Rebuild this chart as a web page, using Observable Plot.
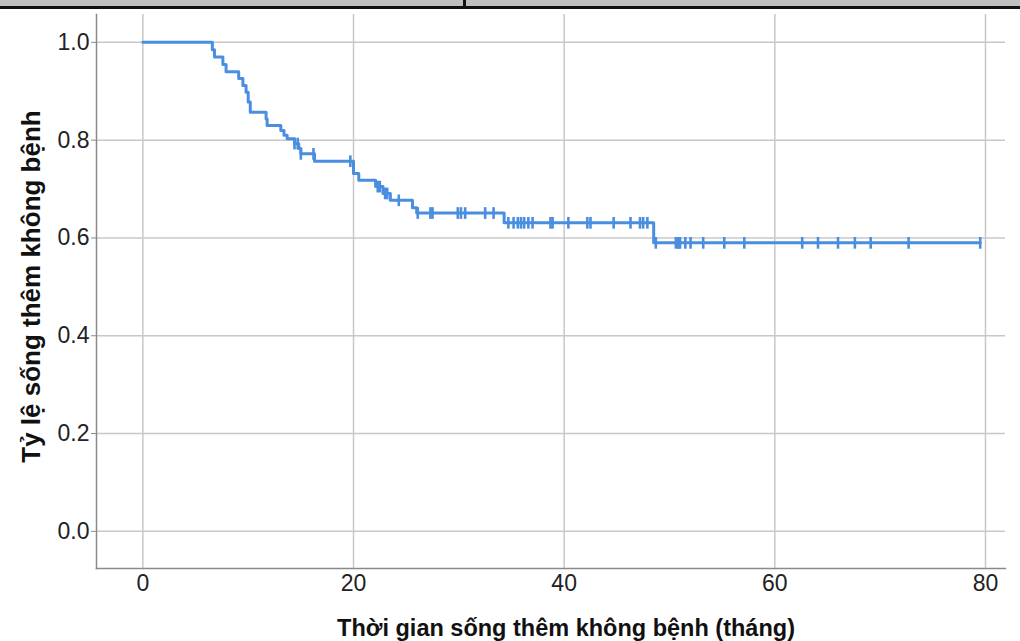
<!DOCTYPE html>
<html>
<head>
<meta charset="utf-8">
<script src="https://cdn.jsdelivr.net/npm/d3@7"></script>
<script src="https://cdn.jsdelivr.net/npm/@observablehq/plot@0.6"></script>
<style>
  html, body { margin: 0; padding: 0; background: #fff; }
  #wrap { position: relative; width: 1020px; height: 641px; overflow: hidden; }
  #band { position: absolute; left: 0; top: 0; width: 1020px; height: 6px; background: #c0c0c0; border-bottom: 3px solid #111; }
  #band-tick { position: absolute; left: 463px; top: 0; width: 3px; height: 9px; background: #111; }
  #chart { position: absolute; left: 0; top: 0; }
</style>
</head>
<body>
<div id="wrap"><div id="chart"></div><div id="band"></div><div id="band-tick"></div></div>
<script>
// Kaplan–Meier steps: event times (months) and survival after each event
const eventTimes = [0, 6.6, 6.8, 7.6, 7.9, 9.1, 9.5, 9.8, 10.0, 10.2, 11.7, 11.8, 13.1, 13.4, 13.7, 14.4, 14.8, 15.0, 16.3, 20.0, 20.5, 22.1, 22.8, 23.5, 25.6, 26.0, 34.3, 48.5];
const survival   = [1.0, 0.985, 0.970, 0.955, 0.940, 0.926, 0.912, 0.898, 0.878, 0.857, 0.844, 0.830, 0.820, 0.810, 0.803, 0.793, 0.783, 0.772, 0.757, 0.732, 0.718, 0.705, 0.691, 0.677, 0.662, 0.651, 0.631, 0.590];
// Censored observations (months)
const censorTimes = [14.4, 14.7, 15.0, 16.2, 19.7, 22.3, 22.5, 23.0, 23.2, 24.3,
  26.1, 27.3, 27.5, 29.9, 30.2, 30.6, 32.5, 33.3,
  34.7, 35.2, 35.6, 35.9, 36.2, 36.6, 37.0, 38.7, 38.9, 40.4, 42.2, 42.5, 44.7, 46.3, 47.2, 47.5, 47.9,
  48.7, 50.6, 50.8, 50.9, 51.0, 51.5, 52.0, 53.2, 55.2, 57.1, 62.6, 64.1, 66.0, 67.6, 69.1, 72.7, 79.5];
const xTicks = [0, 20, 40, 60, 80];
const yTicks = [0, 0.2, 0.4, 0.6, 0.8, 1.0];
const xTitle = "Thời gian sống thêm không bệnh (tháng)";
const yTitle = "Tỷ lệ sống thêm không bệnh";

function survAt(t) {
  let s = survival[0];
  for (let i = 0; i < eventTimes.length; i++) if (eventTimes[i] <= t) s = survival[i];
  return s;
}
const steps = eventTimes.map((t, i) => ({t, s: survival[i]}));
const lastT = d3.max(censorTimes);
steps.push({t: lastT, s: survAt(lastT)});
const censors = censorTimes.map(t => ({t, s: survAt(t)}));

const blue = "#4a8ee0";
const vbar = {
  draw(ctx, size) {
    const h = Math.sqrt(size);
    ctx.moveTo(0, -h); ctx.lineTo(0, h);
  }
};

const chart = Plot.plot({
  width: 1020,
  height: 641,
  marginLeft: 96,
  marginRight: 15,
  marginTop: 14,
  marginBottom: 73,
  style: {fontFamily: "Liberation Sans, Arial, sans-serif", fontSize: "23px", color: "#222", background: "transparent"},
  x: {domain: [-4.4, 81.9]},
  y: {domain: [-0.076, 1.057]},
  marks: [
    Plot.gridX(xTicks, {stroke: "#c8c8c8", strokeOpacity: 1, strokeWidth: 1.5}),
    Plot.gridY(yTicks, {stroke: "#c8c8c8", strokeOpacity: 1, strokeWidth: 1.5}),
    Plot.frame({anchor: "left", stroke: "#8a8a8a", strokeWidth: 1.5}),
    Plot.frame({anchor: "bottom", stroke: "#8a8a8a", strokeWidth: 1.5}),
    Plot.axisX(xTicks, {tickSize: 0, tickPadding: 6, label: null, fontSize: 23, tickFormat: d3.format("d")}),
    Plot.axisY(yTicks, {tickSize: 5, stroke: "#8a8a8a", tickPadding: 2, label: null, fontSize: 23, tickFormat: d3.format(".1f")}),
    Plot.line(steps, {x: "t", y: "s", curve: "step-after", stroke: blue, strokeWidth: 3}),
    Plot.dot(censors, {x: "t", y: "s", symbol: vbar, r: 3.3, stroke: blue, strokeWidth: 2.6, fill: "none"}),
    Plot.text([xTitle], {frameAnchor: "bottom", text: d => d, dx: 15, dy: 60, lineAnchor: "middle", fontWeight: "bold", fontSize: 23.5, fill: "#111"}),
    Plot.text([yTitle], {frameAnchor: "left", text: d => d, rotate: -90, dx: -65, dy: -5, textAnchor: "middle", lineAnchor: "middle", fontWeight: "bold", fontSize: 26, fill: "#111"})
  ]
});
document.getElementById("chart").appendChild(chart);
</script>
</body>
</html>
